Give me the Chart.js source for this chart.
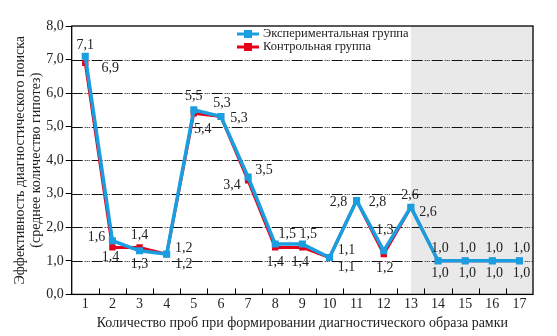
<!DOCTYPE html>
<html>
<head>
<meta charset="utf-8">
<script src="https://cdn.jsdelivr.net/npm/chart.js@4"></script>
<style>
  html, body { margin: 0; padding: 0; background: #fff; }
  #wrap { width: 557px; height: 336px; position: relative; }
</style>
</head>
<body>
<div id="wrap"><canvas id="chart" width="557" height="336"></canvas></div>
<script>
// данные графика
const categories = ['1', '2', '3', '4', '5', '6', '7', '8', '9', '10', '11', '12', '13', '14', '15', '16', '17'];
const experimental = [7.1, 1.6, 1.3, 1.2, 5.5, 5.3, 3.5, 1.5, 1.5, 1.1, 2.8, 1.3, 2.6, 1.0, 1.0, 1.0, 1.0];
const control = [6.9, 1.4, 1.4, 1.2, 5.4, 5.3, 3.4, 1.4, 1.4, 1.1, 2.8, 1.2, 2.6, 1.0, 1.0, 1.0, 1.0];
const seriesNames = ['Экспериментальная группа', 'Контрольная группа'];
const yTicks = [0, 1, 2, 3, 4, 5, 6, 7, 8];
const shadeFrom = '13';

const BLUE = '#1a9ee0';
const RED = '#e2001a';
const FONT = '"Liberation Serif", "Times New Roman", serif';

// смещения подписей (dx, dy) относительно точки
const blueLabelOffsets = [
  [0, -11], [-16, -3], [0, 14], [17, -6], [0, -14], [1, -13], [16, -7], [12, -10], [6, -10],
  [17, -7], [-18, 2], [1, -20], [-1, -12], [2, -13], [2, -13], [2, -13], [2, -13]
];
const redLabelOffsets = [
  [25, 5], [-2, 10], [0, -12], [17, 10], [9, 16], [18, 2], [-16, 5], [0, 15], [-2, 15],
  [17, 10], [21, 2], [1, 14], [17, 5], [2, 12], [2, 12], [2, 12], [2, 12]
];

const fmt = v => v.toFixed(1).replace('.', ',');

// серая зона, сетка, рамка, подписи, легенда
const decorPlugin = {
  id: 'decor',
  beforeDraw(chart) {
    const { ctx, chartArea: a, scales: { x } } = chart;
    const x0 = x.getPixelForValue(categories.indexOf(shadeFrom));
    ctx.save();
    ctx.fillStyle = '#e9e9e9';
    ctx.fillRect(x0, a.top, a.right - x0, a.bottom - a.top);
    ctx.restore();
  },
  beforeDatasetsDraw(chart) {
    const { ctx, chartArea: a, scales: { y } } = chart;
    ctx.save();
    ctx.strokeStyle = '#111';
    ctx.lineWidth = 1;
    ctx.setLineDash([11, 2, 1, 1, 1, 1, 1, 2]);
    yTicks.slice(1, -1).forEach(v => {
      const py = Math.round(y.getPixelForValue(v)) + 0.5;
      ctx.beginPath();
      ctx.moveTo(a.left, py);
      ctx.lineTo(a.right, py);
      ctx.stroke();
    });
    ctx.restore();
  },
  afterDatasetsDraw(chart) {
    const { ctx, chartArea: a, scales: { x } } = chart;
    ctx.save();
    ctx.strokeStyle = '#000';
    ctx.lineWidth = 1.3;
    ctx.strokeRect(a.left, a.top, a.right - a.left, a.bottom - a.top);
    // засечки по оси X внутрь
    ctx.lineWidth = 1;
    for (let i = 0; i < categories.length - 1; i++) {
      const px = Math.round((x.getPixelForValue(i) + x.getPixelForValue(i + 1)) / 2) + 0.5;
      ctx.beginPath();
      ctx.moveTo(px, a.bottom);
      ctx.lineTo(px, a.bottom - 6);
      ctx.stroke();
    }
    ctx.restore();
  },
  afterDraw(chart) {
    const { ctx, scales: { x, y } } = chart;
    ctx.save();
    ctx.font = '14px ' + FONT;
    ctx.fillStyle = '#222';
    ctx.textAlign = 'center';
    ctx.textBaseline = 'middle';
    const drawLabels = (data, offs) => {
      data.forEach((v, i) => {
        const px = x.getPixelForValue(i);
        const py = y.getPixelForValue(v);
        ctx.fillText(fmt(v), px + offs[i][0], py + offs[i][1]);
      });
    };
    drawLabels(experimental, blueLabelOffsets);
    drawLabels(control, redLabelOffsets);

    // легенда
    const lx = 237, ly = [34, 47];
    [BLUE, RED].forEach((c, i) => {
      ctx.strokeStyle = c;
      ctx.fillStyle = c;
      ctx.lineWidth = 3;
      ctx.beginPath();
      ctx.moveTo(lx, ly[i]);
      ctx.lineTo(lx + 22, ly[i]);
      ctx.stroke();
      ctx.fillRect(lx + 7, ly[i] - 4, 8, 8);
      ctx.fillStyle = '#222';
      ctx.font = '12.5px ' + FONT;
      ctx.textAlign = 'left';
      ctx.fillText(seriesNames[i], lx + 26, ly[i]);
    });
    ctx.restore();
  }
};

new Chart(document.getElementById('chart'), {
  type: 'line',
  data: {
    labels: categories,
    datasets: [
      {
        label: seriesNames[0],
        data: experimental,
        borderColor: BLUE,
        backgroundColor: BLUE,
        borderWidth: 3.5,
        pointStyle: 'rect',
        pointRadius: 5,
        pointBorderWidth: 0,
        tension: 0
      },
      {
        label: seriesNames[1],
        data: control,
        borderColor: RED,
        backgroundColor: RED,
        borderWidth: 3,
        pointStyle: 'rect',
        pointRadius: 4.5,
        pointBorderWidth: 0,
        tension: 0
      }
    ]
  },
  options: {
    responsive: false,
    animation: false,
    layout: { padding: { top: 26, right: 24, left: 12, bottom: 4 } },
    plugins: {
      legend: { display: false },
      tooltip: { enabled: false }
    },
    scales: {
      x: {
        offset: true,
        grid: { display: false, drawTicks: false },
        border: { display: false },
        ticks: { color: '#222', font: { family: FONT, size: 14 }, padding: 2, maxRotation: 0, autoSkip: false },
        title: {
          display: true,
          text: 'Количество проб при формировании диагностического образа рамки',
          color: '#222',
          font: { family: FONT, size: 14 },
          padding: { top: 0, bottom: 0 }
        }
      },
      y: {
        min: 0,
        max: 8,
        afterBuildTicks(scale) { scale.ticks = yTicks.map(v => ({ value: v })); },
        grid: {
          drawOnChartArea: false,
          tickLength: 6,
          tickColor: '#000',
          drawTicks: true
        },
        border: { display: false },
        ticks: {
          color: '#222',
          font: { family: FONT, size: 14 },
          padding: 2,
          callback: v => fmt(v)
        },
        title: {
          display: true,
          text: ['Эффективность диагностического поиска', '(среднее количество гипотез)'],
          color: '#222',
          font: { family: FONT, size: 14, lineHeight: 1.15 },
          padding: { top: 0, bottom: 0 }
        }
      }
    }
  },
  plugins: [decorPlugin]
});
</script>
</body>
</html>
